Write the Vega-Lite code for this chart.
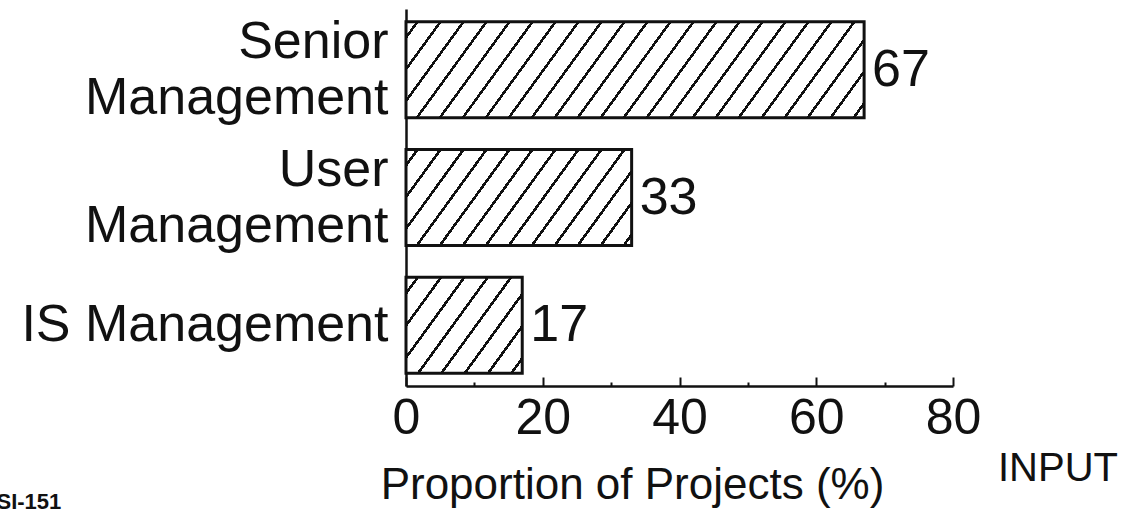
{
  "$schema": "https://vega.github.io/schema/vega-lite/v6.json",
  "autosize": "none",
  "padding": {"left": 406, "top": 9, "right": 175, "bottom": 127},
  "width": 547,
  "height": 377,
  "background": "#ffffff",
  "config": {
    "view": {"stroke": null},
    "font": "Liberation Sans",
    "axis": {"labelFont": "Liberation Sans", "titleFont": "Liberation Sans", "labelColor": "#111111", "titleColor": "#111111", "domainColor": "#111111", "tickColor": "#111111"}
  },
  "title": {
    "text": "INPUT",
    "orient": "bottom",
    "anchor": "end",
    "frame": "group",
    "align": "right",
    "baseline": "alphabetic",
    "font": "Liberation Sans",
    "fontSize": 40,
    "fontWeight": "normal",
    "color": "#111111",
    "dx": 165,
    "dy": -35
  },
  "data": {
    "values": [
      {"role": "Senior Management", "pct": 67},
      {"role": "User Management", "pct": 33},
      {"role": "IS Management", "pct": 17}
    ]
  },
  "encoding": {
    "y": {
      "field": "role",
      "type": "nominal",
      "sort": null,
      "scale": {"paddingInner": 0.25, "paddingOuter": 0.1},
      "axis": {
        "title": "SI-151",
        "titleAngle": 0,
        "titleAlign": "left",
        "titleBaseline": "alphabetic",
        "titleX": -410,
        "titleY": 499,
        "titleFontSize": 22,
        "titleFontWeight": "bold",
        "ticks": false,
        "labelFontSize": 52,
        "labelLineHeight": 56,
        "labelPadding": 18,
        "labelLimit": 600,
        "labelOffset": {"condition": {"test": "datum.value != 'IS Management'", "value": -28}, "value": 0},
        "labelExpr": "datum.value == 'IS Management' ? datum.value : split(datum.value, ' ')",
        "domainWidth": 2.5
      }
    },
    "x": {
      "field": "pct",
      "type": "quantitative",
      "scale": {"domain": [0, 80], "nice": false},
      "axis": {
        "title": "Proportion of Projects (%)",
        "titleFontSize": 44,
        "titleFontWeight": "normal",
        "titleAlign": "center",
        "titleBaseline": "alphabetic",
        "titleX": 226,
        "titleY": 112,
        "values": [0, 10, 20, 30, 40, 50, 60, 70, 80],
        "labelExpr": "datum.value % 20 == 0 ? datum.label : ''",
        "labelFontSize": 50,
        "labelPadding": 16,
        "labelFlush": false,
        "labelOverlap": false,
        "tickSize": {"condition": {"test": "datum.value % 20 == 0", "value": -9}, "value": -4},
        "tickWidth": 2,
        "domainWidth": 2.5,
        "grid": false
      }
    }
  },
  "layer": [
    {
      "transform": [{"filter": "datum.role == 'Senior Management'"}],
      "mark": {
        "type": "bar",
        "stroke": "#111111",
        "strokeWidth": 3,
        "fill": {
          "gradient": "linear",
          "x1": 0, "y1": 0, "x2": 1.12825, "y2": 0.17143,
          "stops": [
            {"offset": 0, "color": "#ffffff"},
            {"offset": 0.0187, "color": "#ffffff"}, {"offset": 0.0187, "color": "#111111"}, {"offset": 0.0247, "color": "#111111"}, {"offset": 0.0247, "color": "#ffffff"},
            {"offset": 0.0622, "color": "#ffffff"}, {"offset": 0.0622, "color": "#111111"}, {"offset": 0.0682, "color": "#111111"}, {"offset": 0.0682, "color": "#ffffff"},
            {"offset": 0.1057, "color": "#ffffff"}, {"offset": 0.1057, "color": "#111111"}, {"offset": 0.1117, "color": "#111111"}, {"offset": 0.1117, "color": "#ffffff"},
            {"offset": 0.1492, "color": "#ffffff"}, {"offset": 0.1492, "color": "#111111"}, {"offset": 0.1552, "color": "#111111"}, {"offset": 0.1552, "color": "#ffffff"},
            {"offset": 0.1927, "color": "#ffffff"}, {"offset": 0.1927, "color": "#111111"}, {"offset": 0.1987, "color": "#111111"}, {"offset": 0.1987, "color": "#ffffff"},
            {"offset": 0.2361, "color": "#ffffff"}, {"offset": 0.2361, "color": "#111111"}, {"offset": 0.2421, "color": "#111111"}, {"offset": 0.2421, "color": "#ffffff"},
            {"offset": 0.2796, "color": "#ffffff"}, {"offset": 0.2796, "color": "#111111"}, {"offset": 0.2856, "color": "#111111"}, {"offset": 0.2856, "color": "#ffffff"},
            {"offset": 0.3231, "color": "#ffffff"}, {"offset": 0.3231, "color": "#111111"}, {"offset": 0.3291, "color": "#111111"}, {"offset": 0.3291, "color": "#ffffff"},
            {"offset": 0.3666, "color": "#ffffff"}, {"offset": 0.3666, "color": "#111111"}, {"offset": 0.3726, "color": "#111111"}, {"offset": 0.3726, "color": "#ffffff"},
            {"offset": 0.4100, "color": "#ffffff"}, {"offset": 0.4100, "color": "#111111"}, {"offset": 0.4160, "color": "#111111"}, {"offset": 0.4160, "color": "#ffffff"},
            {"offset": 0.4535, "color": "#ffffff"}, {"offset": 0.4535, "color": "#111111"}, {"offset": 0.4595, "color": "#111111"}, {"offset": 0.4595, "color": "#ffffff"},
            {"offset": 0.4970, "color": "#ffffff"}, {"offset": 0.4970, "color": "#111111"}, {"offset": 0.5030, "color": "#111111"}, {"offset": 0.5030, "color": "#ffffff"},
            {"offset": 0.5405, "color": "#ffffff"}, {"offset": 0.5405, "color": "#111111"}, {"offset": 0.5465, "color": "#111111"}, {"offset": 0.5465, "color": "#ffffff"},
            {"offset": 0.5840, "color": "#ffffff"}, {"offset": 0.5840, "color": "#111111"}, {"offset": 0.5900, "color": "#111111"}, {"offset": 0.5900, "color": "#ffffff"},
            {"offset": 0.6274, "color": "#ffffff"}, {"offset": 0.6274, "color": "#111111"}, {"offset": 0.6334, "color": "#111111"}, {"offset": 0.6334, "color": "#ffffff"},
            {"offset": 0.6709, "color": "#ffffff"}, {"offset": 0.6709, "color": "#111111"}, {"offset": 0.6769, "color": "#111111"}, {"offset": 0.6769, "color": "#ffffff"},
            {"offset": 0.7144, "color": "#ffffff"}, {"offset": 0.7144, "color": "#111111"}, {"offset": 0.7204, "color": "#111111"}, {"offset": 0.7204, "color": "#ffffff"},
            {"offset": 0.7579, "color": "#ffffff"}, {"offset": 0.7579, "color": "#111111"}, {"offset": 0.7639, "color": "#111111"}, {"offset": 0.7639, "color": "#ffffff"},
            {"offset": 0.8014, "color": "#ffffff"}, {"offset": 0.8014, "color": "#111111"}, {"offset": 0.8074, "color": "#111111"}, {"offset": 0.8074, "color": "#ffffff"},
            {"offset": 0.8448, "color": "#ffffff"}, {"offset": 0.8448, "color": "#111111"}, {"offset": 0.8508, "color": "#111111"}, {"offset": 0.8508, "color": "#ffffff"},
            {"offset": 0.8883, "color": "#ffffff"}, {"offset": 0.8883, "color": "#111111"}, {"offset": 0.8943, "color": "#111111"}, {"offset": 0.8943, "color": "#ffffff"},
            {"offset": 0.9318, "color": "#ffffff"}, {"offset": 0.9318, "color": "#111111"}, {"offset": 0.9378, "color": "#111111"}, {"offset": 0.9378, "color": "#ffffff"},
            {"offset": 0.9753, "color": "#ffffff"}, {"offset": 0.9753, "color": "#111111"}, {"offset": 0.9813, "color": "#111111"}, {"offset": 0.9813, "color": "#ffffff"},
            {"offset": 1, "color": "#ffffff"}
          ]
        }
      }
    },
    {
      "transform": [{"filter": "datum.role == 'User Management'"}],
      "mark": {
        "type": "bar",
        "stroke": "#111111",
        "strokeWidth": 3,
        "fill": {
          "gradient": "linear",
          "x1": 0, "y1": 0, "x2": 1.20947, "y2": 0.3731,
          "stops": [
            {"offset": 0, "color": "#ffffff"},
            {"offset": 0.0331, "color": "#ffffff"}, {"offset": 0.0331, "color": "#111111"}, {"offset": 0.0439, "color": "#111111"}, {"offset": 0.0439, "color": "#ffffff"},
            {"offset": 0.1100, "color": "#ffffff"}, {"offset": 0.1100, "color": "#111111"}, {"offset": 0.1208, "color": "#111111"}, {"offset": 0.1208, "color": "#ffffff"},
            {"offset": 0.1869, "color": "#ffffff"}, {"offset": 0.1869, "color": "#111111"}, {"offset": 0.1977, "color": "#111111"}, {"offset": 0.1977, "color": "#ffffff"},
            {"offset": 0.2638, "color": "#ffffff"}, {"offset": 0.2638, "color": "#111111"}, {"offset": 0.2746, "color": "#111111"}, {"offset": 0.2746, "color": "#ffffff"},
            {"offset": 0.3408, "color": "#ffffff"}, {"offset": 0.3408, "color": "#111111"}, {"offset": 0.3516, "color": "#111111"}, {"offset": 0.3516, "color": "#ffffff"},
            {"offset": 0.4177, "color": "#ffffff"}, {"offset": 0.4177, "color": "#111111"}, {"offset": 0.4285, "color": "#111111"}, {"offset": 0.4285, "color": "#ffffff"},
            {"offset": 0.4946, "color": "#ffffff"}, {"offset": 0.4946, "color": "#111111"}, {"offset": 0.5054, "color": "#111111"}, {"offset": 0.5054, "color": "#ffffff"},
            {"offset": 0.5715, "color": "#ffffff"}, {"offset": 0.5715, "color": "#111111"}, {"offset": 0.5823, "color": "#111111"}, {"offset": 0.5823, "color": "#ffffff"},
            {"offset": 0.6485, "color": "#ffffff"}, {"offset": 0.6485, "color": "#111111"}, {"offset": 0.6593, "color": "#111111"}, {"offset": 0.6593, "color": "#ffffff"},
            {"offset": 0.7254, "color": "#ffffff"}, {"offset": 0.7254, "color": "#111111"}, {"offset": 0.7362, "color": "#111111"}, {"offset": 0.7362, "color": "#ffffff"},
            {"offset": 0.8023, "color": "#ffffff"}, {"offset": 0.8023, "color": "#111111"}, {"offset": 0.8131, "color": "#111111"}, {"offset": 0.8131, "color": "#ffffff"},
            {"offset": 0.8792, "color": "#ffffff"}, {"offset": 0.8792, "color": "#111111"}, {"offset": 0.8900, "color": "#111111"}, {"offset": 0.8900, "color": "#ffffff"},
            {"offset": 0.9561, "color": "#ffffff"}, {"offset": 0.9561, "color": "#111111"}, {"offset": 0.9669, "color": "#111111"}, {"offset": 0.9669, "color": "#ffffff"},
            {"offset": 1, "color": "#ffffff"}
          ]
        }
      }
    },
    {
      "transform": [{"filter": "datum.role == 'IS Management'"}],
      "mark": {
        "type": "bar",
        "stroke": "#111111",
        "strokeWidth": 3,
        "fill": {
          "gradient": "linear",
          "x1": 0, "y1": 0, "x2": 1.1819, "y2": 0.70771,
          "stops": [
            {"offset": 0, "color": "#ffffff"},
            {"offset": 0.0539, "color": "#ffffff"}, {"offset": 0.0539, "color": "#111111"}, {"offset": 0.0711, "color": "#111111"}, {"offset": 0.0711, "color": "#ffffff"},
            {"offset": 0.1789, "color": "#ffffff"}, {"offset": 0.1789, "color": "#111111"}, {"offset": 0.1961, "color": "#111111"}, {"offset": 0.1961, "color": "#ffffff"},
            {"offset": 0.3039, "color": "#ffffff"}, {"offset": 0.3039, "color": "#111111"}, {"offset": 0.3211, "color": "#111111"}, {"offset": 0.3211, "color": "#ffffff"},
            {"offset": 0.4289, "color": "#ffffff"}, {"offset": 0.4289, "color": "#111111"}, {"offset": 0.4461, "color": "#111111"}, {"offset": 0.4461, "color": "#ffffff"},
            {"offset": 0.5539, "color": "#ffffff"}, {"offset": 0.5539, "color": "#111111"}, {"offset": 0.5711, "color": "#111111"}, {"offset": 0.5711, "color": "#ffffff"},
            {"offset": 0.6789, "color": "#ffffff"}, {"offset": 0.6789, "color": "#111111"}, {"offset": 0.6961, "color": "#111111"}, {"offset": 0.6961, "color": "#ffffff"},
            {"offset": 0.8039, "color": "#ffffff"}, {"offset": 0.8039, "color": "#111111"}, {"offset": 0.8211, "color": "#111111"}, {"offset": 0.8211, "color": "#ffffff"},
            {"offset": 0.9289, "color": "#ffffff"}, {"offset": 0.9289, "color": "#111111"}, {"offset": 0.9461, "color": "#111111"}, {"offset": 0.9461, "color": "#ffffff"},
            {"offset": 1, "color": "#ffffff"}
          ]
        }
      }
    },
    {
      "mark": {
        "type": "text",
        "align": "left",
        "baseline": "middle",
        "dx": 8,
        "font": "Liberation Sans",
        "fontSize": 52,
        "color": "#111111"
      },
      "encoding": {"text": {"field": "pct", "type": "quantitative"}}
    }
  ]
}
